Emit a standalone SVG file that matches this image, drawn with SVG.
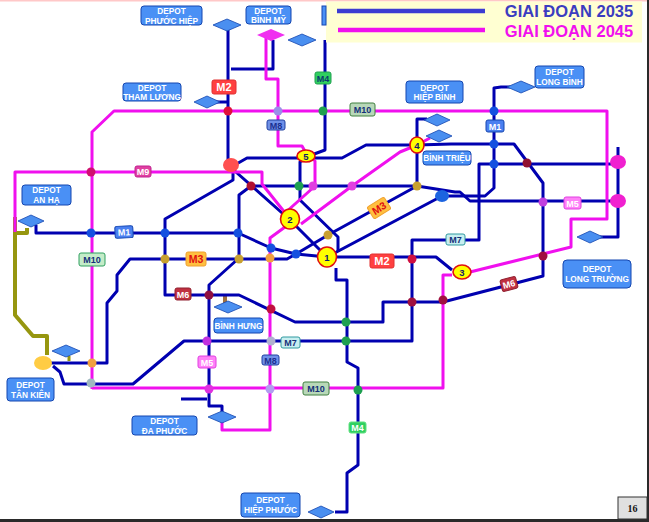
<svg xmlns="http://www.w3.org/2000/svg" width="649" height="522" viewBox="0 0 649 522">
<style>
text{font-family:"Liberation Sans",Arial,sans-serif;text-anchor:middle}
.b,.m,.o{fill:none;stroke-linejoin:round}
.b{stroke:#0000b0;stroke-width:3}
.m{stroke:#f010ee;stroke-width:3}
.o{stroke:#96960f;stroke-width:4}
.dp rect{fill:#4a90f5;stroke:#1546b0;stroke-width:1}
.dp text{fill:#fff;font-size:8.300px;font-weight:700}
.dm{fill:#4a8ff0;stroke:#1546b0;stroke-width:.8}
.st{stroke:none}
.n ellipse{fill:#ffff00;stroke:#e01010;stroke-width:1.6}
.n text{fill:#10206a;font-size:9.500px;font-weight:700}
.l rect{stroke-width:1}
.l text{font-weight:700;font-size:9px}
</style>
<rect width="649" height="522" fill="#fff"/>
<rect width="649" height="1.500" fill="#ffc8c8"/>
<g id="connectors">
<path class="o" d="M15 217V315L33 336H47V355M15 233H27V228"/>
<path class="o" d="M69 361V356" style="stroke-width:3"/>
<path d="M225 296V303" fill="none" stroke="#a07040" stroke-width="4"/>
<path class="b" d="M228 25V165L290 220 327 257H412 436L452 270"/>
<path class="b" d="M231 69H273V40"/>
<path class="b" d="M207 102H228"/>
<path class="b" d="M233 165V180L165 219V295H239L295 322H383V302H443L543 276V183L514 144H451L417 145H366L342 158H247L233 166"/>
<path class="b" d="M36 225V233H238L271 248 296 254 327 257 442 196H485L494 188V88L501 87H510"/>
<path class="b" d="M325 40V150L306 157 300 162V200L338 237V252M336 268V280H347V362L358 368V465L347 473V512H335"/>
<path class="b" d="M618 201H470L460 192H455L417 186H251L239 195V258L209 285V406H222V417"/>
<path class="b" d="M181 399H207"/>
<path class="b" d="M43 363H107V303L117 291V275L130 259H287L296 254 328 235 417 186V119H427"/>
<path class="b" d="M53 366 60 372 64 384H133L184 341H412V240H479V164H618"/>
<path class="b" d="M618 147V237H600"/>
<path class="m" d="M92 389V132L114 111H607V219H571V247L470 272M452 275H443V388H92"/>
<path class="m" d="M15 232V172H262V184L290 219"/>
<path class="m" d="M266 35V79H278V146H302L306 153 315 161V186L285 213"/>
<path class="m" d="M301 224 352 186 400 152 417 145 430 138"/>
<path class="m" d="M285 227 270 238V430H222V420"/>
</g>
<g id="legend">
<rect x="326" y="1.500" width="316" height="41" fill="#ffffd2"/>
<path d="M337 11H485" stroke="#3c3cd2" stroke-width="4.500"/>
<path d="M338 30H485" stroke="#f010ee" stroke-width="4.500"/>
<text x="569" y="17" font-size="16.500" font-weight="700" fill="#3c3cc0">GIAI ĐOẠN 2035</text>
<text x="569" y="37" font-size="16.500" font-weight="700" fill="#f010ee">GIAI ĐOẠN 2045</text>
</g>
<g id="stations" class="st">
<ellipse cx="231" cy="165" rx="8" ry="7" fill="#ff5050"/>
<ellipse cx="43" cy="363" rx="9" ry="7" fill="#ffcc44"/>
<circle cx="228" cy="111" r="4.500" fill="#e0103a"/>
<circle cx="278" cy="111" r="4.500" fill="#9a8fe8"/>
<circle cx="323" cy="111" r="4.500" fill="#1ea050"/>
<circle cx="494" cy="111" r="4.500" fill="#1450e0"/>
<circle cx="494" cy="144" r="4.500" fill="#1450e0"/>
<circle cx="494" cy="164" r="4.500" fill="#1450e0"/>
<circle cx="91" cy="172" r="4.500" fill="#d01070"/>
<circle cx="91" cy="233" r="4.500" fill="#1450e0"/>
<circle cx="165" cy="233" r="4.500" fill="#1450e0"/>
<circle cx="238" cy="233" r="4.500" fill="#1450e0"/>
<circle cx="165" cy="259" r="4.500" fill="#c8a030"/>
<circle cx="239" cy="259" r="4.500" fill="#c8a030"/>
<circle cx="270" cy="258" r="4.500" fill="#f0a040"/>
<circle cx="271" cy="248" r="4.500" fill="#1450e0"/>
<circle cx="296" cy="254" r="4.500" fill="#1450e0"/>
<circle cx="328" cy="235" r="4.500" fill="#c8a030"/>
<circle cx="417" cy="186" r="4.500" fill="#c8a030"/>
<ellipse cx="442" cy="196" rx="7" ry="6" fill="#1c64e0"/>
<circle cx="251" cy="186" r="4.500" fill="#b01030"/>
<circle cx="299" cy="186" r="4.500" fill="#1ea050"/>
<circle cx="313" cy="186" r="4.500" fill="#e040e0"/>
<circle cx="352" cy="186" r="4.500" fill="#e040e0"/>
<circle cx="527" cy="163" r="4.500" fill="#901030"/>
<circle cx="543" cy="202" r="4.500" fill="#c040e0"/>
<ellipse cx="618" cy="162" rx="8" ry="7" fill="#f020d0"/>
<ellipse cx="618" cy="201" rx="8" ry="7" fill="#f020d0"/>
<circle cx="543" cy="256" r="4.500" fill="#a01040"/>
<circle cx="412" cy="259" r="4.500" fill="#d01040"/>
<circle cx="412" cy="302" r="4.500" fill="#a01040"/>
<circle cx="443" cy="300" r="4.500" fill="#a01040"/>
<circle cx="209" cy="295" r="4.500" fill="#901040"/>
<circle cx="271" cy="309" r="4.500" fill="#c01040"/>
<circle cx="207" cy="341" r="4.500" fill="#c030e0"/>
<circle cx="271" cy="341" r="4.500" fill="#b0b0d0"/>
<circle cx="346" cy="322" r="4.500" fill="#1ea050"/>
<circle cx="346" cy="341" r="4.500" fill="#1ea050"/>
<circle cx="358" cy="390" r="4.500" fill="#1ea050"/>
<circle cx="209" cy="389" r="4.500" fill="#e030e0"/>
<circle cx="270" cy="389" r="4.500" fill="#b09ff0"/>
<circle cx="92" cy="363" r="4.500" fill="#f0a040"/>
<circle cx="91" cy="383" r="4.500" fill="#a0b8c0"/>
</g>
<g id="n1" class="n"><ellipse cx="327" cy="257" rx="9.500" ry="10"/><text x="327" y="260.500">1</text></g>
<g id="n2" class="n"><ellipse cx="290" cy="219" rx="9.500" ry="10"/><text x="290" y="222.500">2</text></g>
<g id="n3" class="n"><ellipse cx="462" cy="272" rx="9" ry="7"/><text x="462" y="275.500">3</text></g>
<g id="n4" class="n"><ellipse cx="417" cy="145" rx="7" ry="8"/><text x="417" y="148.500">4</text></g>
<g id="n5" class="n"><ellipse cx="306" cy="156" rx="9" ry="6"/><text x="306" y="159.500">5</text></g>
<g id="lines-labels" class="l">
<g id="l-m2a"><rect x="212" y="80" width="24" height="14" rx="2" fill="#ff4040" stroke="#e03030"/><text x="224" y="91" fill="#fff" style="font-size:11px">M2</text></g>
<g id="l-m8a"><rect x="267" y="120" width="18" height="10" rx="2" fill="#6f90e8" stroke="#2040a0"/><text x="276" y="128.500" fill="#1a2f90">M8</text></g>
<g id="l-m4a"><rect x="315" y="72" width="16" height="12" rx="2" fill="#30d060" stroke="#20a050"/><text x="323" y="81.500" fill="#0c3a70">M4</text></g>
<g id="l-m10a"><rect x="350" y="103" width="25" height="13" rx="2" fill="#b8d8b8" stroke="#408040"/><text x="362.500" y="112.500" fill="#14307a">M10</text></g>
<g id="l-m1a"><rect x="486" y="120" width="18" height="12" rx="2" fill="#4a80f0" stroke="#1546b0"/><text x="495" y="129.500" fill="#fff">M1</text></g>
<g id="l-m9"><rect x="135" y="166" width="16" height="11" rx="2" fill="#e040a0" stroke="#c02090"/><text x="143" y="175" fill="#fff">M9</text></g>
<g id="l-m1b" transform="rotate(-3 124 232)"><rect x="115" y="226" width="18" height="12" rx="2" fill="#4a80f0" stroke="#1546b0"/><text x="124" y="235.500" fill="#fff">M1</text></g>
<g id="l-m10b"><rect x="79" y="253" width="26" height="13" rx="2" fill="#c4ecc8" stroke="#30a060"/><text x="92" y="263" fill="#14307a">M10</text></g>
<g id="l-m3a"><rect x="186" y="252" width="20" height="14" rx="2" fill="#ffc040" stroke="#f0a030"/><text x="196" y="263" fill="#e01010" style="font-size:10.500px">M3</text></g>
<g id="l-m6a"><rect x="175" y="288" width="16" height="12" rx="2" fill="#c03040" stroke="#902030"/><text x="183" y="297.500" fill="#fff">M6</text></g>
<g id="l-m3b" transform="rotate(-32 379 208)"><rect x="369" y="201" width="20" height="14" rx="2" fill="#ffc040" stroke="#f0a030"/><text x="379" y="212" fill="#e01010" style="font-size:10.500px">M3</text></g>
<g id="l-m2b"><rect x="370" y="254" width="24" height="14" rx="2" fill="#ff4040" stroke="#e03030"/><text x="382" y="265" fill="#fff" style="font-size:11px">M2</text></g>
<g id="l-m7a"><rect x="446" y="234" width="19" height="11" rx="2" fill="#c8eef0" stroke="#309aa0"/><text x="455.500" y="243" fill="#14307a">M7</text></g>
<g id="l-m5a"><rect x="564" y="197" width="17" height="12" rx="2" fill="#ff80f8" stroke="#e040e0"/><text x="572.500" y="206.500" fill="#fff">M5</text></g>
<g id="l-m6b" transform="rotate(-15 509 284)"><rect x="501" y="278" width="16" height="12" rx="2" fill="#c03040" stroke="#902030"/><text x="509" y="287.500" fill="#fff">M6</text></g>
<g id="l-m7b"><rect x="281" y="337" width="19" height="11" rx="2" fill="#c8eef0" stroke="#309aa0"/><text x="290.500" y="346" fill="#14307a">M7</text></g>
<g id="l-m5b"><rect x="198" y="356" width="18" height="12" rx="2" fill="#ff80f8" stroke="#e040e0"/><text x="207" y="365.500" fill="#fff">M5</text></g>
<g id="l-m8b"><rect x="262" y="355" width="17" height="10" rx="2" fill="#6f90e8" stroke="#2040a0"/><text x="270.500" y="363.500" fill="#1a2f90">M8</text></g>
<g id="l-m10c"><rect x="303" y="382" width="26" height="13" rx="2" fill="#b8d8b8" stroke="#408040"/><text x="316" y="391.500" fill="#14307a">M10</text></g>
<g id="l-m4b"><rect x="349" y="422" width="17" height="11" rx="2" fill="#30d060" stroke="#60e080"/><text x="357.500" y="431" fill="#fff">M4</text></g>
</g>
<g id="depot-phuoc-hiep" class="dp"><rect x="141" y="6" width="61" height="19" rx="3"/><text x="171.500" y="14">DEPOT</text><text x="171.500" y="23.500">PHƯỚC HIỆP</text><path class="dm" d="M213 25 227 19 241 25 227 31Z"/></g>
<g id="depot-binh-my" class="dp"><rect x="246" y="6" width="45" height="18" rx="3"/><text x="268.500" y="13.500">DEPOT</text><text x="268.500" y="22.500">BÌNH MỸ</text><path d="M257 35 271 29 285 35 271 41Z" fill="#f030f0"/></g>
<g id="depot-m4" class="dp"><rect x="322" y="6" width="4" height="19"/><path class="dm" d="M288 40 302 34 316 40 302 46Z"/></g>
<g id="depot-tham-luong" class="dp"><rect x="123" y="83" width="58" height="18" rx="3"/><text x="152" y="90.500">DEPOT</text><text x="152" y="99.500">THAM LƯƠNG</text><path class="dm" d="M194 102 207 96 220 102 207 108Z"/></g>
<g id="depot-an-ha" class="dp"><rect x="22" y="185" width="49" height="20" rx="3"/><text x="46.500" y="193">DEPOT</text><text x="46.500" y="203">AN HẠ</text><path class="dm" d="M18 221 31 215 44 221 31 227Z"/></g>
<g id="depot-hiep-binh" class="dp"><rect x="406" y="81" width="57" height="22" rx="3"/><text x="434.500" y="91">DEPOT</text><text x="434.500" y="100">HIỆP BÌNH</text><path class="dm" d="M424 120 437 114 450 120 437 126Z"/></g>
<g id="depot-binh-trieu" class="dp"><rect x="423" y="151" width="48" height="14" rx="3"/><text x="447" y="161">BÌNH TRIỆU</text><path class="dm" d="M426 136 439 130 452 136 439 142Z"/></g>
<g id="depot-long-binh" class="dp"><rect x="535" y="66" width="49" height="22" rx="3"/><text x="559.500" y="75">DEPOT</text><text x="559.500" y="85">LONG BÌNH</text><path class="dm" d="M507 87 521 81 535 87 521 93Z"/></g>
<g id="depot-long-truong" class="dp"><rect x="563" y="260" width="68" height="28" rx="4"/><text x="597" y="272">DEPOT</text><text x="597" y="282">LONG TRƯỜNG</text><path class="dm" d="M577 237 590 231 603 237 590 243Z"/></g>
<g id="depot-binh-hung" class="dp"><rect x="214" y="318" width="49" height="15" rx="3"/><text x="238.500" y="329">BÌNH HƯNG</text><path class="dm" d="M214 307 228 301 242 307 228 313Z"/></g>
<g id="depot-tan-kien" class="dp"><rect x="7" y="378" width="47" height="23" rx="3"/><text x="30.500" y="388">DEPOT</text><text x="30.500" y="398">TÂN KIÊN</text><path class="dm" d="M52 351 66 345 80 351 66 357Z"/></g>
<g id="depot-da-phuoc" class="dp"><rect x="132" y="416" width="65" height="19" rx="3"/><text x="164.500" y="424">DEPOT</text><text x="164.500" y="433.500">ĐA PHƯỚC</text><path class="dm" d="M208 417 222 411 236 417 222 423Z"/></g>
<g id="depot-hiep-phuoc" class="dp"><rect x="241" y="493" width="59" height="24" rx="3"/><text x="270.500" y="503">DEPOT</text><text x="270.500" y="513">HIỆP PHƯỚC</text><path class="dm" d="M308 512 321 506 334 512 321 518Z"/></g>
<g id="frame">
<rect x="0" y="519" width="649" height="3" fill="#2a2a2a"/>
<rect x="647" y="0" width="2" height="522" fill="#2a2a2a"/>
<rect x="618" y="497" width="29" height="22" fill="#e0e0e0" stroke="#333" stroke-width="1"/>
<text x="632.500" y="512" style="font-family:'Liberation Serif',serif;font-size:10px;font-weight:700" fill="#111">16</text>
</g>
</svg>
